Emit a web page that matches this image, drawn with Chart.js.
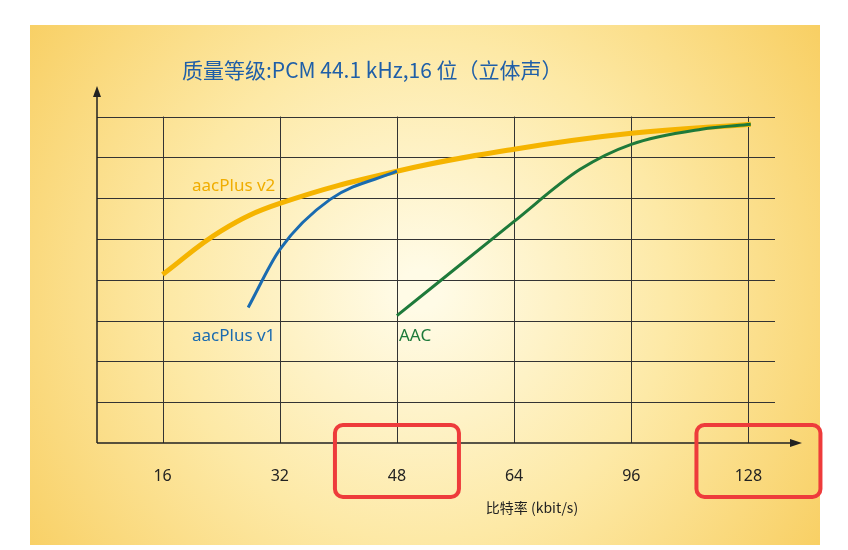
<!DOCTYPE html>
<html><head><meta charset="utf-8">
<script src="https://cdn.jsdelivr.net/npm/chart.js@4/dist/chart.umd.min.js"></script>
<style>html,body{margin:0;background:#fff}#wrap{width:848px;height:550px}</style>
</head><body><div id="wrap"><canvas id="c" width="848" height="550"></canvas></div>
<script>
const tickLabels = ['16', '32', '48', '64', '96', '128'];
const highlighted = ['48', '128'];
// x is tick index (1 = 16 kbit/s ... 6 = 128 kbit/s), y is quality level
const v2X = [1, 1.5, 2, 3, 4, 5, 6.02];
const v2Y = [4.13, 5.2, 5.87, 6.66, 7.2, 7.59, 7.81];
const v1X = [1.73, 2, 2.43, 3];
const v1Y = [3.32, 4.74, 5.97, 6.66];
const aacX = [3, 4, 4.56, 5, 5.6, 6.02];
const aacY = [3.12, 5.43, 6.7, 7.32, 7.69, 7.81];

const pts = (xs, ys) => xs.map((x, i) => ({ x: x, y: ys[i] }));

const decor = {
    id: 'decor',
    beforeDraw(chart) {
        const ctx = chart.ctx;
        const g = ctx.createRadialGradient(420, 290, 20, 420, 290, 480);
        g.addColorStop(0, '#fffbe6');
        g.addColorStop(0.5, '#fde9a6');
        g.addColorStop(1, '#f8cf63');
        ctx.fillStyle = g;
        ctx.fillRect(30, 25, 790, 520);

        const xs = chart.scales.x, ys = chart.scales.y;
        const x0 = xs.getPixelForValue(0.44), y0 = ys.getPixelForValue(0);
        ctx.strokeStyle = '#333';
        ctx.lineWidth = 1;
        for (let i = 1; i <= 8; i++) {
            const y = Math.round(ys.getPixelForValue(i)) + 0.5;
            ctx.beginPath(); ctx.moveTo(x0, y); ctx.lineTo(775, y); ctx.stroke();
        }
        for (let i = 1; i <= 6; i++) {
            const x = Math.round(xs.getPixelForValue(i)) + 0.5;
            ctx.beginPath(); ctx.moveTo(x, ys.getPixelForValue(8)); ctx.lineTo(x, y0); ctx.stroke();
        }
        // axes with arrows
        ctx.strokeStyle = '#222'; ctx.fillStyle = '#222'; ctx.lineWidth = 1.5;
        ctx.beginPath(); ctx.moveTo(x0, y0); ctx.lineTo(x0, 95); ctx.moveTo(x0, y0); ctx.lineTo(792, y0); ctx.stroke();
        ctx.beginPath(); ctx.moveTo(x0, 86); ctx.lineTo(x0 - 4, 97); ctx.lineTo(x0 + 4, 97); ctx.fill();
        ctx.beginPath(); ctx.moveTo(802, y0); ctx.lineTo(790, y0 - 4); ctx.lineTo(790, y0 + 4); ctx.fill();
    },
    afterDraw(chart) {
        const ctx = chart.ctx;
        const xs = chart.scales.x;
        ctx.textAlign = 'center'; ctx.textBaseline = 'middle';
        ctx.fillStyle = '#222';
        ctx.font = '16px "Noto Sans", sans-serif';
        tickLabels.forEach((t, i) => {
            const x = xs.getPixelForValue(i + 1);
            ctx.fillText(t, x, 476);
            if (highlighted.includes(t)) {
                const cx = i === 5 ? x + 10 : x;
                ctx.strokeStyle = '#ee3b3b'; ctx.lineWidth = 4;
                ctx.beginPath(); ctx.roundRect(cx - 62, 425, 124, 72, 8); ctx.stroke();
            }
        });
        ctx.font = '14px "Noto Sans CJK SC", sans-serif';
        ctx.fillText('比特率 (kbit/s)', 532, 508);
        ctx.textAlign = 'left';
        ctx.font = '21px "Noto Sans CJK SC", sans-serif';
        ctx.fillStyle = '#1f5fa8';
        ctx.fillText('质量等级:PCM 44.1 kHz,16 位（立体声）', 182, 70);
        ctx.font = '17px "Noto Sans", sans-serif';
        ctx.fillStyle = '#f0ad00'; ctx.fillText('aacPlus v2', 192, 186);
        ctx.fillStyle = '#1a6bb0'; ctx.fillText('aacPlus v1', 192, 336);
        ctx.fillStyle = '#1e7a3a'; ctx.fillText('AAC', 399, 336);
    }
};

new Chart(document.getElementById('c'), {
    type: 'line',
    data: {
        datasets: [
            { data: pts(aacX, aacY), borderColor: '#1e7a3a', borderWidth: 3, cubicInterpolationMode: 'monotone' },
            { data: pts(v1X, v1Y), borderColor: '#1a6bb0', borderWidth: 3, cubicInterpolationMode: 'monotone' },
            { data: pts(v2X, v2Y), borderColor: '#f5b400', borderWidth: 5, tension: 0.4 }
        ]
    },
    options: {
        responsive: false, animation: false,
        layout: { padding: { left: 97, right: 48, top: 88, bottom: 107 } },
        elements: { point: { radius: 0 }, line: { fill: false } },
        plugins: { legend: { display: false }, tooltip: { enabled: false } },
        scales: {
            x: { type: 'linear', min: 0.44, max: 6.44, display: false },
            y: { min: 0, max: 8.7, display: false }
        }
    },
    plugins: [decor]
});
</script></body></html>
